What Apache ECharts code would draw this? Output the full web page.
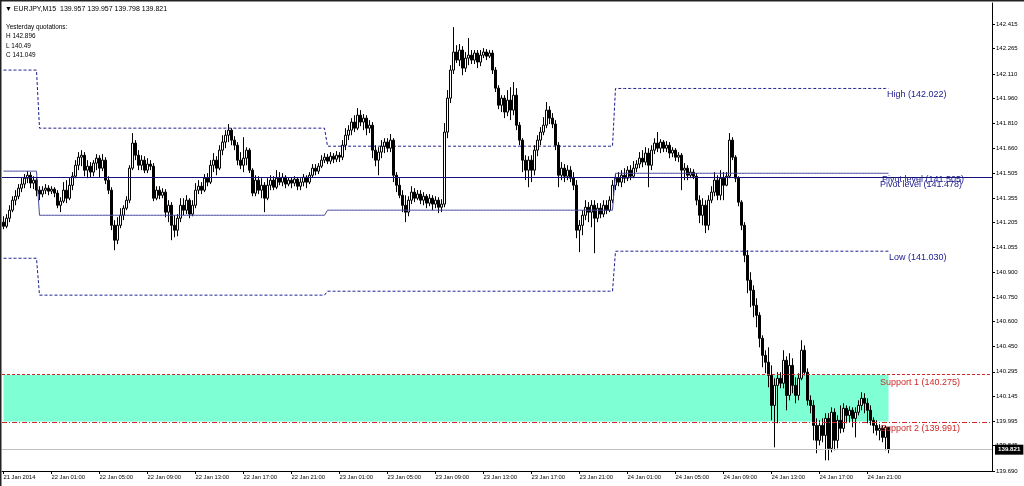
<!DOCTYPE html>
<html><head><meta charset="utf-8">
<script src="https://cdn.jsdelivr.net/npm/echarts@6/dist/echarts.min.js"></script>
<style>html,body{margin:0;padding:0;background:#fff}#c{width:1024px;height:486px}</style>
</head><body><div id="c"></div>
<script>
// ---- data (EURJPY M15, 21 Jan 21:00 .. 24 Jan 22:45) ----
const opens = [
141.207,141.182,141.231,141.280,141.341,141.365,141.414,141.439,141.475,141.493,
141.445,141.463,141.402,141.378,141.402,141.414,141.396,141.408,141.384,141.310,
141.335,141.402,141.353,141.432,141.487,141.554,141.603,141.615,141.524,141.548,
141.512,141.567,141.597,141.536,141.585,141.463,141.402,141.188,141.097,141.188,
141.249,141.292,141.341,141.536,141.689,141.615,141.554,141.585,141.524,141.561,
141.548,141.353,141.402,141.371,141.390,141.268,141.310,141.188,141.158,141.231,
141.310,141.280,141.341,141.256,141.310,141.402,141.426,141.402,141.475,141.451,
141.554,141.585,141.536,141.646,141.695,141.737,141.768,141.707,141.676,141.585,
141.554,141.597,141.646,141.524,141.384,141.463,141.402,141.432,141.353,141.432,
141.463,141.420,141.475,141.451,141.481,141.439,141.463,141.445,141.469,141.426,
141.451,141.481,141.451,141.493,141.536,141.518,141.548,141.585,141.603,141.579,
141.609,141.591,141.615,141.603,141.676,141.737,141.768,141.817,141.780,141.859,
141.817,141.841,141.780,141.798,141.646,141.585,141.634,141.670,141.695,141.658,
141.707,141.493,141.432,141.371,141.310,141.268,141.341,141.390,141.353,141.378,
141.341,141.365,141.323,141.353,141.317,141.341,141.298,141.317,141.756,141.963,
142.134,142.244,142.195,142.256,142.146,142.207,142.225,142.195,142.238,142.183,
142.225,142.244,142.219,142.238,142.134,142.024,141.920,141.963,141.878,141.951,
141.890,141.981,141.798,141.707,141.585,141.524,141.585,141.524,141.646,141.707,
141.756,141.798,141.890,141.841,141.805,141.676,141.493,141.536,141.487,141.524,
141.475,141.432,141.158,141.188,141.249,141.298,141.268,141.310,141.231,141.292,
141.256,141.310,141.280,141.341,141.432,141.475,141.451,141.493,141.475,141.524,
141.487,141.536,141.561,141.597,141.573,141.628,141.554,141.646,141.689,141.658,
141.695,141.658,141.676,141.628,141.646,141.603,141.615,141.524,141.536,141.493,
141.512,141.487,141.341,141.249,141.310,141.188,141.341,141.390,141.463,141.371,
141.475,141.432,141.487,141.707,141.603,141.475,141.329,141.188,141.005,140.853,
140.792,140.700,140.639,140.499,140.395,140.353,140.273,140.090,140.212,140.255,
140.225,140.365,140.151,140.334,140.212,140.151,140.255,140.426,140.292,140.121,
140.090,139.968,139.877,139.968,139.907,140.011,139.828,140.048,139.877,139.999,
139.950,140.072,140.029,140.060,140.011,140.048,140.090,140.133,140.103,140.060,
139.999,139.968,139.938,139.950,139.895,139.957];
const closes = [
141.182,141.231,141.280,141.341,141.365,141.414,141.439,141.475,141.493,141.445,
141.463,141.402,141.378,141.402,141.414,141.396,141.408,141.384,141.310,141.335,
141.402,141.353,141.432,141.487,141.554,141.603,141.615,141.524,141.548,141.512,
141.567,141.597,141.536,141.585,141.463,141.402,141.188,141.097,141.188,141.249,
141.292,141.341,141.536,141.689,141.615,141.554,141.585,141.524,141.561,141.548,
141.353,141.402,141.371,141.390,141.268,141.310,141.188,141.158,141.231,141.310,
141.280,141.341,141.256,141.310,141.402,141.426,141.402,141.475,141.451,141.554,
141.585,141.536,141.646,141.695,141.737,141.768,141.707,141.676,141.585,141.554,
141.597,141.646,141.524,141.384,141.463,141.402,141.432,141.353,141.432,141.463,
141.420,141.475,141.451,141.481,141.439,141.463,141.445,141.469,141.426,141.451,
141.481,141.451,141.493,141.536,141.518,141.548,141.585,141.603,141.579,141.609,
141.591,141.615,141.603,141.676,141.737,141.768,141.817,141.780,141.859,141.817,
141.841,141.780,141.798,141.646,141.585,141.634,141.670,141.695,141.658,141.707,
141.493,141.432,141.371,141.310,141.268,141.341,141.390,141.353,141.378,141.341,
141.365,141.323,141.353,141.317,141.341,141.298,141.317,141.756,141.963,142.134,
142.244,142.195,142.256,142.146,142.207,142.225,142.195,142.238,142.183,142.225,
142.244,142.219,142.238,142.134,142.024,141.920,141.963,141.878,141.951,141.890,
141.981,141.798,141.707,141.585,141.524,141.585,141.524,141.646,141.707,141.756,
141.798,141.890,141.841,141.805,141.676,141.493,141.536,141.487,141.524,141.475,
141.432,141.158,141.188,141.249,141.298,141.268,141.310,141.231,141.292,141.256,
141.310,141.280,141.341,141.432,141.475,141.451,141.493,141.475,141.524,141.487,
141.536,141.561,141.597,141.573,141.628,141.554,141.646,141.689,141.658,141.695,
141.658,141.676,141.628,141.646,141.603,141.615,141.524,141.536,141.493,141.512,
141.487,141.341,141.249,141.310,141.188,141.341,141.390,141.463,141.371,141.475,
141.432,141.487,141.707,141.603,141.475,141.329,141.188,141.005,140.853,140.792,
140.700,140.639,140.499,140.395,140.353,140.273,140.090,140.212,140.255,140.225,
140.365,140.151,140.334,140.212,140.151,140.255,140.426,140.292,140.121,140.090,
139.968,139.877,139.968,139.907,140.011,139.828,140.048,139.877,139.999,139.950,
140.072,140.029,140.060,140.011,140.048,140.090,140.133,140.103,140.060,139.999,
139.968,139.938,139.950,139.895,139.956,139.821];
const highs = [
141.243,141.256,141.310,141.365,141.402,141.439,141.475,141.500,141.518,141.512,
141.487,141.475,141.426,141.426,141.439,141.432,141.426,141.420,141.402,141.359,
141.451,141.463,141.475,141.512,141.585,141.634,141.646,141.634,141.585,141.573,
141.585,141.622,141.615,141.622,141.603,141.487,141.420,141.219,141.237,141.292,
141.310,141.365,141.554,141.750,141.707,141.646,141.615,141.609,141.597,141.585,
141.567,141.426,141.426,141.414,141.408,141.341,141.329,141.249,141.256,141.353,
141.353,141.371,141.353,141.341,141.445,141.463,141.451,141.500,141.506,141.585,
141.628,141.609,141.676,141.737,141.768,141.805,141.780,141.731,141.695,141.634,
141.725,141.664,141.658,141.536,141.493,141.487,141.475,141.451,141.475,141.493,
141.487,141.524,141.512,141.506,141.493,141.481,141.481,141.487,141.481,141.475,
141.500,141.493,141.512,141.561,141.561,141.567,141.615,141.628,141.622,141.634,
141.628,141.640,141.634,141.707,141.780,141.798,141.841,141.859,141.902,141.890,
141.866,141.859,141.829,141.817,141.676,141.664,141.707,141.719,141.719,141.744,
141.719,141.512,141.475,141.402,141.371,141.365,141.426,141.414,141.402,141.402,
141.390,141.378,141.378,141.371,141.365,141.359,141.347,141.811,142.012,142.164,
142.396,142.286,142.293,142.280,142.244,142.329,142.256,142.256,142.256,142.256,
142.268,142.262,142.256,142.256,142.152,142.042,141.981,141.981,142.012,142.030,
142.061,142.024,141.817,141.719,141.615,141.609,141.615,141.676,141.737,141.786,
141.847,141.939,141.914,141.872,141.829,141.695,141.573,141.561,141.554,141.548,
141.512,141.463,141.219,141.280,141.341,141.329,141.341,141.341,141.323,141.323,
141.341,141.341,141.365,141.463,141.500,141.512,141.524,141.536,141.548,141.554,
141.579,141.585,141.634,141.646,141.664,141.658,141.676,141.719,141.756,141.713,
141.707,141.701,141.695,141.664,141.658,141.634,141.628,141.567,141.554,141.536,
141.530,141.506,141.371,141.353,141.341,141.371,141.426,141.512,141.493,141.524,
141.512,141.512,141.750,141.725,141.615,141.487,141.341,141.207,141.036,140.902,
140.822,140.743,140.658,140.517,140.426,140.444,140.334,140.255,140.292,140.292,
140.426,140.389,140.408,140.377,140.261,140.286,140.487,140.456,140.316,140.151,
140.121,140.011,139.999,140.011,140.042,140.042,140.078,140.072,140.029,140.090,
140.103,140.090,140.084,140.078,140.078,140.121,140.170,140.164,140.133,140.090,
140.017,139.999,139.975,139.968,139.968,139.957];
const lows = [
141.164,141.170,141.207,141.268,141.310,141.347,141.390,141.414,141.445,141.414,
141.408,141.365,141.341,141.359,141.378,141.371,141.378,141.359,141.292,141.268,
141.323,141.323,141.341,141.402,141.475,141.524,141.548,141.487,141.475,141.481,
141.487,141.524,141.481,141.518,141.439,141.378,141.158,141.036,141.073,141.170,
141.219,141.280,141.323,141.524,141.585,141.524,141.524,141.506,141.506,141.524,
141.335,141.341,141.347,141.353,141.237,141.207,141.097,141.115,141.121,141.207,
141.249,141.256,141.231,141.243,141.292,141.378,141.378,141.390,141.426,141.439,
141.512,141.493,141.524,141.615,141.658,141.695,141.676,141.646,141.554,141.530,
141.512,141.554,141.506,141.365,141.365,141.378,141.353,141.268,141.341,141.402,
141.402,141.408,141.432,141.426,141.414,141.426,141.414,141.426,141.402,141.402,
141.426,141.414,141.439,141.481,141.493,141.500,141.536,141.567,141.561,141.561,
141.567,141.573,141.573,141.585,141.646,141.707,141.737,141.756,141.768,141.792,
141.768,141.737,141.750,141.597,141.548,141.493,141.597,141.628,141.634,141.634,
141.451,141.390,141.353,141.268,141.207,141.243,141.317,141.329,141.341,141.317,
141.310,141.292,141.304,141.280,141.292,141.262,141.268,141.298,141.719,141.933,
142.110,142.177,142.158,142.103,142.122,142.164,142.171,142.171,142.146,142.158,
142.207,142.195,142.207,142.110,142.000,141.896,141.878,141.841,141.853,141.829,
141.859,141.768,141.676,141.512,141.463,141.420,141.451,141.493,141.609,141.676,
141.737,141.780,141.805,141.780,141.646,141.420,141.463,141.451,141.463,141.451,
141.402,141.109,141.024,141.127,141.219,141.207,141.176,141.018,141.207,141.231,
141.237,141.256,141.268,141.323,141.402,141.426,141.420,141.445,141.457,141.463,
141.475,141.512,141.536,141.542,141.554,141.420,141.524,141.622,141.634,141.628,
141.634,141.634,141.597,141.603,141.579,141.573,141.402,141.463,141.463,141.475,
141.469,141.310,141.201,141.188,141.140,141.158,141.323,141.365,141.341,141.341,
141.341,141.426,141.475,141.585,141.451,141.304,141.158,140.963,140.774,140.688,
140.627,140.566,140.444,140.322,140.286,140.200,139.999,139.834,139.981,140.194,
140.194,140.060,140.121,140.164,140.103,140.121,140.243,140.273,140.090,140.042,
139.877,139.798,139.846,139.865,139.755,139.755,139.804,139.816,139.828,139.920,
139.926,139.981,139.987,139.956,139.895,140.029,140.060,140.042,139.981,139.968,
139.920,139.907,139.877,139.865,139.816,139.798];

const xLabels = ['21 Jan 2014','22 Jan 01:00','22 Jan 05:00','22 Jan 09:00','22 Jan 13:00',
  '22 Jan 17:00','22 Jan 21:00','23 Jan 01:00','23 Jan 05:00','23 Jan 09:00','23 Jan 13:00',
  '23 Jan 17:00','23 Jan 21:00','24 Jan 01:00','24 Jan 05:00','24 Jan 09:00','24 Jan 13:00',
  '24 Jan 17:00','24 Jan 21:00'];
const yTicks = [139.690,139.845,139.995,140.145,140.295,140.450,140.600,140.750,140.900,141.055,
  141.205,141.355,141.505,141.660,141.810,141.960,142.110,142.265,142.415];

// previous-day levels, per trading day (day starts at bar index)
const dayStarts = [0, 12, 108, 204];
const dayHigh  = [142.134, 141.780, 141.670, 142.022];
const dayLow   = [140.987, 140.762, 140.786, 141.030];
const dayPivot = [141.518, 141.249, 141.280, 141.505];
const pivotLevel = 141.478;
const support1 = 140.275;
const support2 = 139.991;
const lastPrice = 139.821;
const headerLine = '\u25BC EURJPY,M15  139.957 139.957 139.798 139.821';
const yesterday = ['Yesterday quotations:', 'H 142.896', 'L 140.49', 'C 141.049'];

// ---- build ----
const SLOTS = 330;           // bar slots incl. empty right shift area
const LABEL_STEP = 16;       // 4 hours of M15 bars
const nBars = opens.length;
const cats = Array.from({length: SLOTS}, (_, i) => String(i));
const candles = opens.map((o, i) => [o, closes[i], lows[i], highs[i]]);
function dayOf(i){ let d = 0; for (let k = 0; k < dayStarts.length; k++) if (i >= dayStarts[k]) d = k; return d; }
const perBar = arr => opens.map((_, i) => arr[dayOf(i)]);
const last = nBars - 1;
const isLabelIdx = i => i % LABEL_STEP === 0 && i / LABEL_STEP < xLabels.length;

const FONT = 'Liberation Sans';
const NAVY = '#1a1a8c';
const RED = '#cc2a2a';
const lblStyle = (txt, color, dx, dy) => ({
  show: true, formatter: txt, color: color, fontSize: 9, fontFamily: FONT,
  position: [dx, dy], align: 'left', verticalAlign: 'top'
});

const chart = echarts.init(document.getElementById('c'), null, {renderer: 'canvas'});
chart.setOption({
  animation: false,
  backgroundColor: '#fff',
  grid: {left: 2, right: 32, top: 3, bottom: 15, containLabel: false},
  xAxis: {
    type: 'category', data: cats, boundaryGap: true,
    axisLine: {show: true, lineStyle: {color: '#000', width: 1}},
    axisTick: {show: true, alignWithLabel: true, length: 3, interval: (i) => isLabelIdx(i), lineStyle: {color: '#000'}},
    axisLabel: {interval: (i) => isLabelIdx(i), formatter: (v, i) => xLabels[i / LABEL_STEP] || '',
      align: 'left', fontSize: 5.8, fontFamily: FONT, color: '#000', margin: 3},
    splitLine: {show: false}
  },
  yAxis: {
    type: 'value', position: 'right', min: 139.690, max: 142.543, scale: true,
    axisLine: {show: true, lineStyle: {color: '#000', width: 1}},
    axisTick: {show: true, length: 3, customValues: yTicks, lineStyle: {color: '#000'}},
    axisLabel: {customValues: yTicks, formatter: v => v.toFixed(3), fontSize: 6, fontFamily: FONT, color: '#000', margin: 4},
    splitLine: {show: false}
  },
  graphic: [
    {type: 'rect', shape: {x: 0, y: 0, width: 1024, height: 1.5}, style: {fill: '#222'}, z: 100},
    {type: 'rect', shape: {x: 0, y: 0, width: 1.5, height: 486}, style: {fill: '#222'}, z: 100},
    {type: 'text', left: 5, top: 5.5, style: {text: headerLine, fontSize: 7, fontFamily: FONT, fill: '#000'}, z: 100},
    ...yesterday.map((t, k) => ({type: 'text', left: 6, top: 24.5 + k * 9.2,
      style: {text: t, fontSize: 6.4, fontFamily: FONT, fill: '#000'}, z: 100}))
  ],
  series: [
    { // support zone and day lows
      name: 'low', type: 'line', data: perBar(dayLow), showSymbol: false, z: 1,
      lineStyle: {color: NAVY, width: 1, type: [3, 2]},
      markArea: {silent: true, itemStyle: {color: '#7fffd4'},
        data: [[{xAxis: 0, yAxis: support1}, {xAxis: last, yAxis: support2}]]},
      markPoint: {symbol: 'circle', symbolSize: 0, data: [
        {coord: [last, dayLow[3]], label: lblStyle('Low (' + dayLow[3].toFixed(3) + ')', NAVY, 0.5, 1.5)}]}
    },
    {
      name: 'high', type: 'line', data: perBar(dayHigh), showSymbol: false, z: 2,
      lineStyle: {color: NAVY, width: 1, type: [3, 2]},
      markPoint: {symbol: 'circle', symbolSize: 0, data: [
        {coord: [last, dayHigh[3]], label: lblStyle('High (' + dayHigh[3].toFixed(3) + ')', NAVY, -1.5, 1.5)}]}
    },
    {
      name: 'EURJPY', type: 'candlestick', data: candles, z: 3, barWidth: 2,
      itemStyle: {color: '#fff', color0: '#000', borderColor: '#000', borderColor0: '#000', borderWidth: 1}
    },
    {
      name: 'pivot', type: 'line', data: perBar(dayPivot), showSymbol: false, z: 4,
      lineStyle: {color: '#4a4aa0', width: 1},
      markLine: {silent: true, symbol: ['none', 'none'], data: [
        {yAxis: pivotLevel, lineStyle: {color: '#14147a', width: 1, type: 'solid'}, label: {show: false}},
        {yAxis: support1, lineStyle: {color: RED, width: 1, type: [3, 2]}, label: {show: false}},
        {yAxis: support2, lineStyle: {color: RED, width: 1, type: [5, 2, 1, 2]}, label: {show: false}},
        {yAxis: lastPrice, lineStyle: {color: '#c0c0c0', width: 1, type: 'solid'},
          label: {show: true, position: 'end', distance: 3, formatter: lastPrice.toFixed(3),
            backgroundColor: '#000', color: '#fff', fontSize: 6.2, fontWeight: 'bold', fontFamily: FONT, padding: [2, 3, 2, 3]}}
      ]},
      markPoint: {symbol: 'circle', symbolSize: 0, data: [
        {coord: [last, dayPivot[3]], label: lblStyle('Pivot level (' + dayPivot[3].toFixed(3) + ')', NAVY, -6.5, 1.5)},
        {coord: [last, pivotLevel], label: lblStyle('Pivot level (' + pivotLevel.toFixed(3) + ')', NAVY, -8.5, 2)},
        {coord: [last, support1], label: lblStyle('Support 1 (' + support1.toFixed(3) + ')', RED, -8.5, 2.5)},
        {coord: [last, support2], label: lblStyle('Support 2 (' + support2.toFixed(3) + ')', RED, -8.5, 2)}
      ]}
    }
  ]
});
</script>
</body></html>
